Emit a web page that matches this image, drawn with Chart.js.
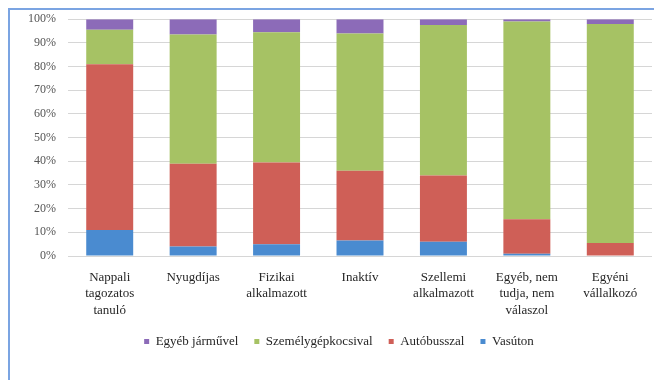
<!DOCTYPE html>
<html>
<head>
<meta charset="utf-8">
<script src="https://cdn.jsdelivr.net/npm/chart.js@4/dist/chart.umd.min.js"></script>
<style>
  html, body { margin: 0; padding: 0; background: #fff; overflow: hidden; }
  .frame {
    position: absolute; left: 8px; top: 8px; width: 700px; height: 420px;
    border: 2px solid #7ba4e2; box-sizing: border-box;
  }
  .wrap { position: absolute; left: 0; top: 0; width: 654px; height: 380px; }
</style>
</head>
<body>
<div class="frame"></div>
<div class="wrap"><canvas id="chart" width="654" height="380"></canvas></div>
<script>
// categories (multi-line labels like in the original)
const categories = [
  ['Nappali', 'tagozatos', 'tanuló'],
  ['Nyugdíjas'],
  ['Fizikai', 'alkalmazott'],
  ['Inaktív'],
  ['Szellemi', 'alkalmazott'],
  ['Egyéb, nem', 'tudja, nem', 'válaszol'],
  ['Egyéni', 'vállalkozó'],
];

// shares in percent, bottom to top
const vasuton = [11, 4, 5, 6.5, 6, 1, 0];
const autobusszal = [70, 35, 34.5, 29.5, 28, 14.5, 5.5];
const szemelygepkocsival = [14.5, 54.5, 55, 58, 63.5, 83.5, 92.5];
const egyebJarmuvel = [4.5, 6.5, 5.5, 6, 2.5, 1, 2];

const yTicks = [0, 10, 20, 30, 40, 50, 60, 70, 80, 90, 100];

const serif = "'Liberation Serif', 'Times New Roman', serif";

const ctx = document.getElementById('chart').getContext('2d');
new Chart(ctx, {
  type: 'bar',
  data: {
    labels: categories,
    datasets: [
      { label: 'Vasúton', data: vasuton, backgroundColor: '#4a8bd0' },
      { label: 'Autóbusszal', data: autobusszal, backgroundColor: '#cf5f57' },
      { label: 'Személygépkocsival', data: szemelygepkocsival, backgroundColor: '#a6c264' },
      { label: 'Egyéb járművel', data: egyebJarmuvel, backgroundColor: '#8c6bb8' },
    ],
  },
  options: {
    responsive: false,
    animation: false,
    datasets: {
      bar: {
        categoryPercentage: 1,
        barPercentage: 0.563,
        borderWidth: 0,
      },
    },
    layout: {
      padding: { left: 26, right: 2, top: 19, bottom: 22 },
    },
    scales: {
      x: {
        stacked: true,
        // padding counts twice in the default fit, so fix the height by hand
        afterFit(scale) { scale.height = 63; },
        grid: { display: false, drawTicks: false },
        border: { display: false },
        ticks: {
          color: '#262626',
          padding: 13,
          maxRotation: 0,
          autoSkip: false,
          font: { family: serif, size: 13, lineHeight: 1.27 },
        },
      },
      y: {
        stacked: true,
        min: 0,
        max: 100,
        afterFit(scale) { scale.width = 42; },
        afterBuildTicks(scale) { scale.ticks = yTicks.map((v) => ({ value: v })); },
        grid: { color: '#d6d6d6', lineWidth: 1, drawTicks: false },
        border: { display: false },
        ticks: {
          color: '#555',
          padding: 12,
          font: { family: serif, size: 12 },
          callback: (v) => `${v}%`,
        },
      },
    },
    plugins: {
      tooltip: { enabled: false },
      legend: {
        position: 'bottom',
        reverse: true,
        labels: {
          boxWidth: 5,
          boxHeight: 5,
          padding: 16,
          color: '#262626',
          font: { family: serif, size: 13 },
        },
      },
    },
  },
});
</script>
</body>
</html>
